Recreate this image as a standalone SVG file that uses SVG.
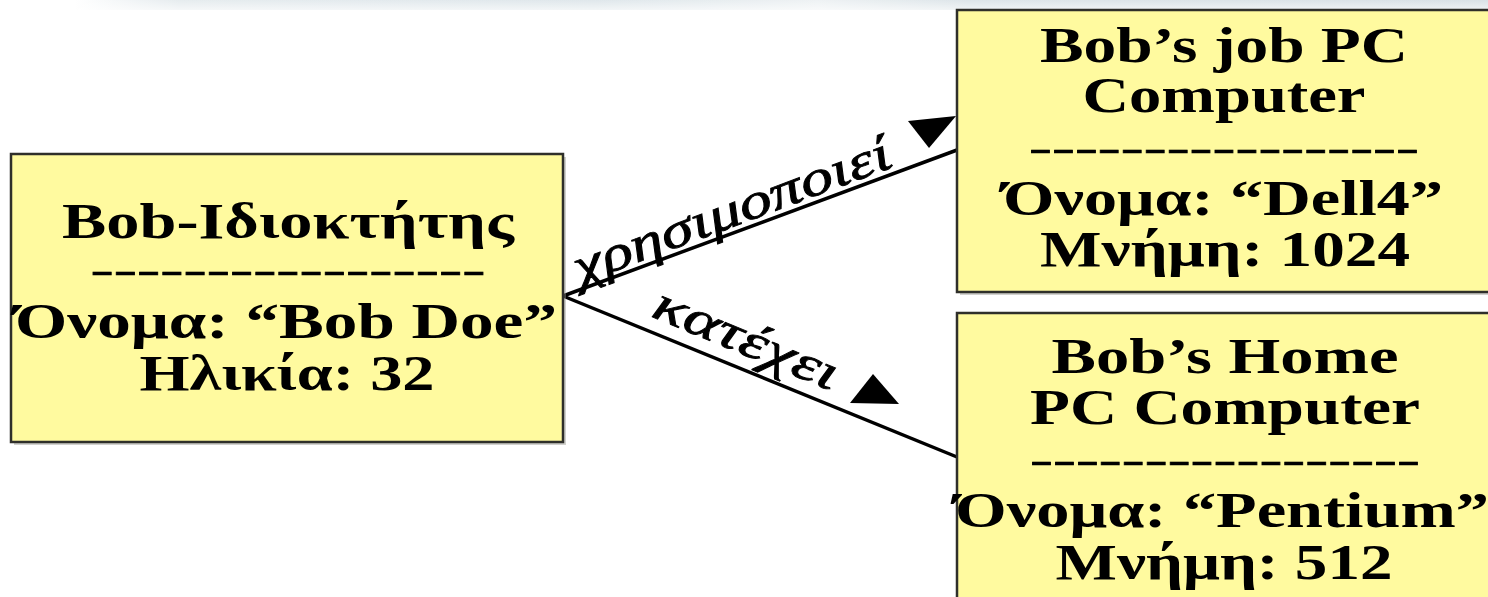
<svg xmlns="http://www.w3.org/2000/svg" width="1488" height="597" viewBox="0 0 1488 597">
  <defs>
    <linearGradient id="band" x1="0" y1="0" x2="1" y2="0">
      <stop offset="0" stop-color="#ffffff"/>
      <stop offset="0.05" stop-color="#ffffff"/>
      <stop offset="0.12" stop-color="#e6ecef"/>
      <stop offset="0.4" stop-color="#dfe7eb"/>
      <stop offset="0.55" stop-color="#eef2f4"/>
      <stop offset="0.65" stop-color="#dde5e9"/>
      <stop offset="1" stop-color="#d9e1e6"/>
    </linearGradient>
    <linearGradient id="bandFade" x1="0" y1="0" x2="0" y2="1">
      <stop offset="0" stop-color="#ffffff" stop-opacity="0"/>
      <stop offset="1" stop-color="#ffffff" stop-opacity="0.6"/>
    </linearGradient>
  </defs>
  <style>
    .box { fill: #fffa9f; stroke: #2f2f2a; stroke-width: 2.5; }
    .shadow { fill: #9a9a90; opacity: 0.45; }
    .t { font-family: "Liberation Serif", "Times New Roman", serif; font-weight: bold; font-size: 50px; fill: #000; text-anchor: middle; }
    .sep { font-family: "Liberation Serif", "Times New Roman", serif; font-weight: bold; font-size: 36px; fill: #000; stroke: #000; stroke-width: 0.5; text-anchor: middle; }
    .lbl { font-family: "Liberation Serif", "Times New Roman", serif; font-style: italic; font-size: 50px; fill: #000; stroke: #000; stroke-width: 0.9; }
    .conn { stroke: #000; stroke-width: 3.5; fill: none; }
    .tri { fill: #000; }
  </style>

  <rect width="1488" height="597" fill="#ffffff"/>
  <!-- header band -->
  <rect x="0" y="0" width="1488" height="10" fill="url(#band)"/>
  <rect x="0" y="0" width="1488" height="10" fill="url(#bandFade)"/>

  <!-- connectors -->
  <g id="connectors">
    <line class="conn" x1="563" y1="296" x2="957" y2="150"/>
    <line class="conn" x1="563" y1="296" x2="957" y2="457"/>
    <text class="lbl" transform="translate(580,284) rotate(-20.5)" textLength="336" lengthAdjust="spacingAndGlyphs">χρησιμοποιεί</text>
    <polygon class="tri" points="908,121 956,116 929,148"/>
    <text class="lbl" transform="translate(650,316) rotate(22.5)" textLength="196" lengthAdjust="spacingAndGlyphs">κατέχει</text>
    <polygon class="tri" points="850,403 873,374 899,404"/>
  </g>

  <!-- owner object -->
  <g id="owner">
    <rect class="shadow" x="14" y="157" width="552" height="288"/>
    <rect class="box" x="11" y="154" width="552" height="288"/>
    <text class="t" x="288" y="238" textLength="452" lengthAdjust="spacingAndGlyphs">Bob-Ιδιοκτήτης</text>
    <text class="sep" x="288" y="282" textLength="395" lengthAdjust="spacingAndGlyphs">-----------------</text>
    <text class="t" x="286" y="338" textLength="542" lengthAdjust="spacingAndGlyphs">Όνομα: “Bob Doe”</text>
    <text class="t" x="287" y="390" textLength="295" lengthAdjust="spacingAndGlyphs">Ηλικία: 32</text>
  </g>

  <!-- job computer object -->
  <g id="job-pc">
    <rect class="shadow" x="960" y="13" width="540" height="282"/>
    <rect class="box" x="957" y="10" width="540" height="282"/>
    <text class="t" x="1224" y="62" textLength="368" lengthAdjust="spacingAndGlyphs">Bob’s job PC</text>
    <text class="t" x="1224" y="112" textLength="283" lengthAdjust="spacingAndGlyphs">Computer</text>
    <text class="sep" x="1224" y="160" textLength="390" lengthAdjust="spacingAndGlyphs">-----------------</text>
    <text class="t" x="1223" y="215" textLength="440" lengthAdjust="spacingAndGlyphs">Όνομα: “Dell4”</text>
    <text class="t" x="1225" y="266" textLength="370" lengthAdjust="spacingAndGlyphs">Μνήμη: 1024</text>
  </g>

  <!-- home computer object -->
  <g id="home-pc">
    <rect class="shadow" x="960" y="316" width="540" height="290"/>
    <rect class="box" x="957" y="313" width="540" height="290"/>
    <text class="t" x="1225" y="373" textLength="347" lengthAdjust="spacingAndGlyphs">Bob’s Home</text>
    <text class="t" x="1225" y="424" textLength="390" lengthAdjust="spacingAndGlyphs">PC Computer</text>
    <text class="sep" x="1225" y="472" textLength="390" lengthAdjust="spacingAndGlyphs">-----------------</text>
    <text class="t" x="1222" y="527" textLength="534" lengthAdjust="spacingAndGlyphs">Όνομα: “Pentium”</text>
    <text class="t" x="1224" y="579" textLength="337" lengthAdjust="spacingAndGlyphs">Μνήμη: 512</text>
  </g>
</svg>
